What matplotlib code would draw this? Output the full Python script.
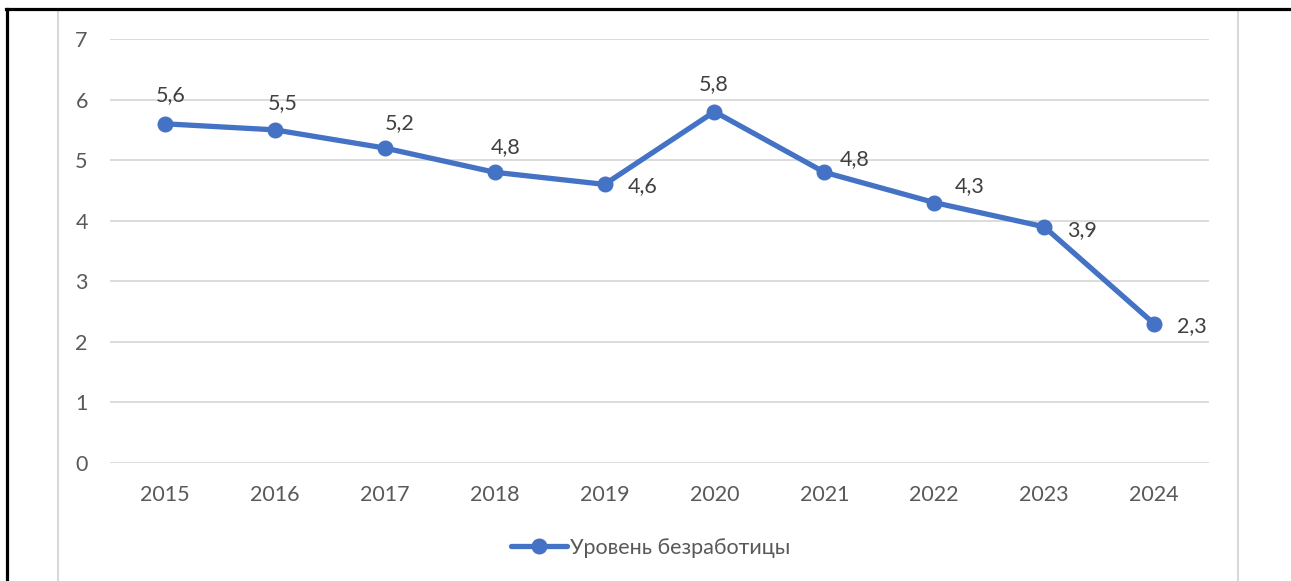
import matplotlib.pyplot as plt
from matplotlib.lines import Line2D
from matplotlib.patches import Rectangle

years = ['2015', '2016', '2017', '2018', '2019', '2020', '2021', '2022', '2023', '2024']
unemployment = [5.6, 5.5, 5.2, 4.8, 4.6, 5.8, 4.8, 4.3, 3.9, 2.3]
series_name = 'Уровень безработицы'

# data label offsets in pixels (dx, dy), Excel-style placement
label_offsets = [(6, 29), (8, 27), (15, 25), (11, 26), (38, -1),
                 (-1, 28), (30, 14), (35, 17), (38, -3), (38, -2)]

blue = '#4472C4'
text_grey = '#595959'
grid_grey = '#D9D9D9'
fs = 15.5

plt.rcParams['font.family'] = ['Lato', 'DejaVu Sans']

W, H = 1291, 581
fig = plt.figure(figsize=(W / 100, H / 100), dpi=100)
ax = fig.add_axes([110 / W, 1 - 463 / H, 1099 / W, 424 / H])

x = range(len(years))
ax.plot(x, unemployment, color=blue, lw=3.8, marker='o', ms=10.5,
        solid_capstyle='round', label=series_name, zorder=3)

px = 0.72  # points per pixel at 100 dpi
for i, v in enumerate(unemployment):
    dx, dy = label_offsets[i]
    ax.annotate(f'{v:.1f}'.replace('.', ','), (i, v),
                xytext=(dx * px, (dy - 6.5) * px), textcoords='offset points',
                ha='center', va='baseline', fontsize=fs, color='#404040')

ax.set_xlim(-0.5, len(years) - 0.5)
ax.set_ylim(0, 7)
ax.set_xticks(list(x))
ax.set_xticklabels(years)
ax.set_yticks(range(0, 8))
ax.grid(axis='y', color=grid_grey, lw=1.3)
ax.set_axisbelow(True)
for s in ax.spines.values():
    s.set_visible(False)
ax.tick_params(axis='both', length=0, labelsize=fs, labelcolor=text_grey)
ax.tick_params(axis='y', pad=16)
ax.tick_params(axis='x', pad=16)

fig.legend(loc='center', bbox_to_anchor=(651 / W, 1 - 548 / H), frameon=False,
           fontsize=fs, labelcolor=text_grey, handlelength=2.6, handletextpad=0.15)

# chart frame and page border
fig.patches.append(Rectangle((58 / W, -0.05), (1238 - 58) / W, 1.05 - 10 / H,
                             transform=fig.transFigure, fill=False,
                             edgecolor=grid_grey, lw=1.5))
fig.lines.append(Line2D([6 / W, 1], [1 - 9 / H, 1 - 9 / H], transform=fig.transFigure,
                        color='black', lw=2.3))
fig.lines.append(Line2D([7 / W, 7 / W], [0, 1 - 9 / H], transform=fig.transFigure,
                        color='black', lw=2.3))

fig.savefig('out.png', dpi=100)
